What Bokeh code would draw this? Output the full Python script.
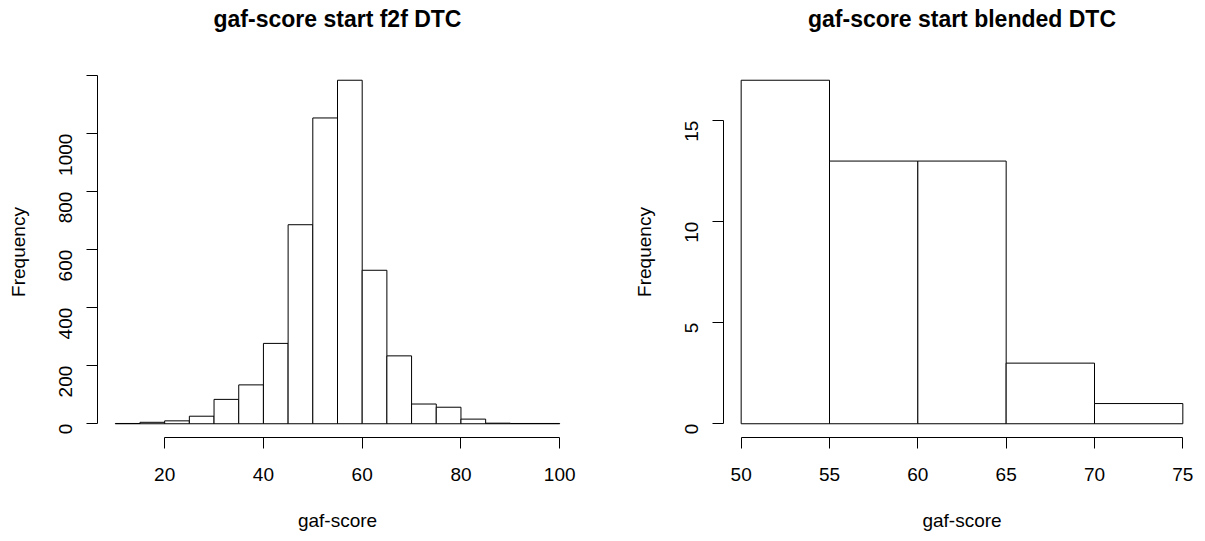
import math
from bokeh.plotting import figure
from bokeh.layouts import row
from bokeh.models import FixedTicker, Range1d, ColumnDataSource, Title
from bokeh.embed import file_html
from bokeh.resources import INLINE

# ---- data ----
left_title = "gaf-score start f2f DTC"
left_edges = [10, 15, 20, 25, 30, 35, 40, 45, 50, 55, 60, 65, 70, 75, 80, 85, 90, 95, 100]
left_counts = [1, 5, 10, 26, 84, 134, 277, 686, 1054, 1184, 529, 234, 68, 57, 16, 2, 1, 1]
left_x_ticks = [20, 40, 60, 80, 100]
left_y_ticks = [0, 200, 400, 600, 800, 1000, 1200]
left_y_labels = ["0", "200", "400", "600", "800", "1000", ""]

right_title = "gaf-score start blended DTC"
right_edges = [50, 55, 60, 65, 70, 75]
right_counts = [17, 13, 13, 3, 1]
right_x_ticks = [50, 55, 60, 65, 70, 75]
right_y_ticks = [0, 5, 10, 15]
right_y_labels = ["0", "5", "10", "15"]

x_label = "gaf-score"
y_label = "Frequency"

FONT = "Liberation Sans"


def make_hist(title, edges, counts, xticks, yticks, ylabels, width, bl, br):
    xr0, xr1 = edges[0], edges[-1]
    xpad = (xr1 - xr0) * 0.04
    ymax = max(counts)
    ypad = ymax * 0.04
    p = figure(width=width, height=541, output_backend="svg", toolbar_location=None,
               x_range=Range1d(xr0 - xpad, xr1 + xpad),
               y_range=Range1d(-ypad, ymax + ypad),
               min_border_left=bl, min_border_right=br,
               min_border_top=66, min_border_bottom=104)
    p.title.text = title
    p.title.align = "center"
    p.title.vertical_align = "top"
    p.title.text_font = FONT
    p.title.text_font_style = "bold"
    p.title.text_font_size = "23px"
    p.title.text_color = "black"
    p.title.standoff = 10
    # blank spacer panel (white) to lift the title away from the frame
    spacer = Title(text=" ", align="center", text_font=FONT, text_font_size="23px",
                   text_color="white", standoff=0)
    p.add_layout(spacer, "above")
    p.outline_line_color = None
    p.xgrid.visible = False
    p.ygrid.visible = False
    p.background_fill_color = "white"
    p.border_fill_color = "white"

    src = ColumnDataSource(dict(left=edges[:-1], right=edges[1:], top=counts,
                                bottom=[0] * len(counts)))
    p.quad(left="left", right="right", top="top", bottom="bottom", source=src,
           fill_color="white", line_color="black", line_width=1)

    xa = p.xaxis[0]
    xa.ticker = FixedTicker(ticks=xticks)
    xa.bounds = (xticks[0], xticks[-1])
    ya = p.yaxis[0]
    ya.ticker = FixedTicker(ticks=yticks)
    ya.bounds = (yticks[0], yticks[-1])
    ya.major_label_overrides = {t: l for t, l in zip(yticks, ylabels)}
    ya.major_label_orientation = math.pi / 2

    for ax in (xa, ya):
        ax.axis_line_color = "black"
        ax.axis_line_width = 1
        ax.major_tick_line_color = "black"
        ax.major_tick_out = 11
        ax.major_tick_in = 0
        ax.minor_tick_line_color = None
        ax.major_label_text_font = FONT
        ax.major_label_text_font_size = "19px"
        ax.major_label_text_color = "black"
        ax.axis_label_text_font = FONT
        ax.axis_label_text_font_size = "19px"
        ax.axis_label_text_font_style = "normal"
        ax.axis_label_text_color = "black"
    xa.axis_label = x_label
    xa.major_label_standoff = 19
    xa.axis_label_standoff = 26
    ya.axis_label = y_label
    ya.major_label_standoff = 21
    ya.axis_label_standoff = 21
    return p


p1 = make_hist(left_title, left_edges, left_counts, left_x_ticks, left_y_ticks,
               left_y_labels, 630, 97, 53)
p2 = make_hist(right_title, right_edges, right_counts, right_x_ticks, right_y_ticks,
               right_y_labels, 575, 92, 5)

layout = row(p1, p2)
open("out.html", "w").write(file_html(layout, INLINE))
